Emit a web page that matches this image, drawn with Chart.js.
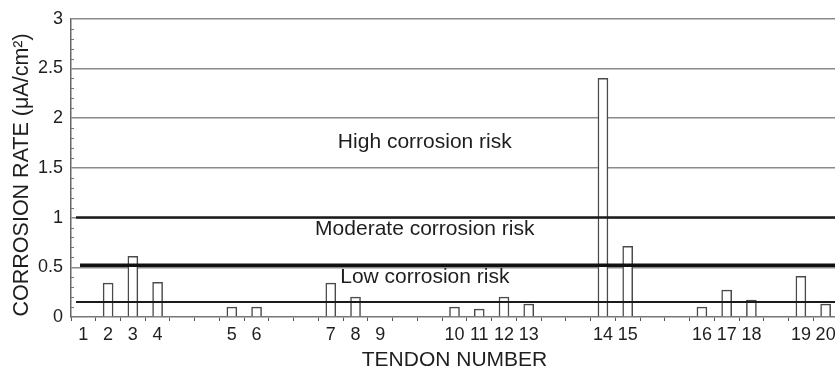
<!DOCTYPE html>
<html>
<head>
<meta charset="utf-8">
<script src="https://cdn.jsdelivr.net/npm/chart.js@4/dist/chart.umd.min.js"></script>
<style>
  html, body { margin: 0; padding: 0; background: #fff; overflow: hidden; }
  #wrap { width: 835px; height: 372px; overflow: hidden; }
</style>
</head>
<body>
<div id="wrap"><canvas id="chart" width="840" height="372"></canvas></div>
<script>
// Tendon numbers along the x axis; blank entries are the gaps between tendon groups.
const tendonLabels = ['1', '2', '3', '4', '', '', '5', '6', '', '', '7', '8', '9', '', '',
  '10', '11', '12', '13', '', '', '14', '15', '', '', '16', '17', '18', '', '19', '20'];

// Corrosion rate per tendon (µA/cm²); null where there is no tendon.
const corrosionRates = [0, 0.34, 0.61, 0.35, null, null, 0.1, 0.1, null, null, 0.34, 0.2, 0,
  null, null, 0.1, 0.08, 0.2, 0.13, null, null, 2.4, 0.71, null, null, 0.1, 0.27, 0.17, null, 0.41, 0.13];

// Risk thresholds (µA/cm²).
const riskThresholds = [0.15, 0.52, 1];

// Risk zone captions and the rate at which each caption sits.
const riskLabels = ['High corrosion risk', 'Moderate corrosion risk', 'Low corrosion risk'];
const riskLabelRates = [1.76, 0.885, 0.4];

const yTitle = 'CORROSION RATE (μA/cm²)';
const xTitle = 'TENDON NUMBER';

const FONT = '"Liberation Sans", Arial, Helvetica, sans-serif';

const thresholdStyle = [
  { width: 2, color: '#1a1a1a', inset: 5 },
  { width: 3.5, color: '#111', inset: 9 },
  { width: 2.5, color: '#1a1a1a', inset: 5 }
];

// Thresholds and zone captions, drawn on top of the bars.
const riskPlugin = {
  id: 'riskZones',
  afterDatasetsDraw(chart) {
    const { ctx, chartArea, scales } = chart;
    const y = scales.y, x = scales.x;
    ctx.save();
    riskThresholds.forEach((v, i) => {
      const s = thresholdStyle[i];
      const py = y.getPixelForValue(v);
      ctx.beginPath();
      ctx.lineWidth = s.width;
      ctx.strokeStyle = s.color;
      ctx.moveTo(chartArea.left + s.inset, py);
      ctx.lineTo(chartArea.right, py);
      ctx.stroke();
    });
    ctx.fillStyle = '#1e1e1e';
    ctx.font = '21px ' + FONT;
    ctx.textAlign = 'center';
    ctx.textBaseline = 'middle';
    const cx = x.getPixelForValue(13.8);
    riskLabels.forEach((t, i) => {
      ctx.fillText(t, cx, y.getPixelForValue(riskLabelRates[i]));
    });
    ctx.restore();
  },
  afterDraw(chart) {
    const { ctx, chartArea, scales } = chart;
    const y = scales.y;
    ctx.save();
    // short minor ticks every 0.1 inside the y axis
    ctx.strokeStyle = '#777';
    ctx.lineWidth = 1;
    for (let k = 1; k < 30; k++) {
      if (k % 5 === 0) continue;
      const py = Math.round(y.getPixelForValue(k / 10)) + 0.5;
      ctx.beginPath();
      ctx.moveTo(chartArea.left, py);
      ctx.lineTo(chartArea.left + 3, py);
      ctx.stroke();
    }
    // rotated y-axis title, set slightly below the plot's middle
    ctx.translate(y.left + 22, (chartArea.top + chartArea.bottom) / 2 + 7);
    ctx.rotate(-Math.PI / 2);
    ctx.fillStyle = '#1e1e1e';
    ctx.font = '21.5px ' + FONT;
    ctx.textAlign = 'center';
    ctx.textBaseline = 'middle';
    ctx.fillText(yTitle, 0, 0);
    ctx.restore();
  }
};

new Chart(document.getElementById('chart'), {
  type: 'bar',
  data: {
    labels: tendonLabels,
    datasets: [{
      data: corrosionRates,
      backgroundColor: '#ffffff',
      borderColor: '#4a4a4a',
      borderWidth: 1.5,
      barThickness: 10
    }]
  },
  options: {
    responsive: false,
    animation: false,
    events: [],
    layout: { padding: { top: 12, right: 2, left: 0, bottom: 0 } },
    plugins: {
      legend: { display: false },
      tooltip: { enabled: false }
    },
    scales: {
      x: {
        offset: true,
        grid: {
          offset: true,
          drawOnChartArea: false,
          drawTicks: true,
          tickLength: 4,
          tickColor: '#555',
          tickWidth: 1
        },
        border: { color: '#777', width: 1.5 },
        ticks: {
          autoSkip: false,
          maxRotation: 0,
          padding: 3,
          color: '#1e1e1e',
          font: { family: FONT, size: 18 }
        },
        title: {
          display: true,
          text: xTitle,
          color: '#1e1e1e',
          font: { family: FONT, size: 21, lineHeight: 1 },
          padding: { top: 0, bottom: 1.5 }
        },
        afterFit(scale) { scale.height = 55; }
      },
      y: {
        min: 0,
        max: 3,
        ticks: {
          stepSize: 0.5,
          padding: 8,
          color: '#1e1e1e',
          font: { family: FONT, size: 18 },
          callback: (v) => String(v)
        },
        grid: {
          drawTicks: false,
          lineWidth: 1.5,
          color: (c) => (c.tick && c.tick.value === 0) ? 'rgba(0,0,0,0)' : '#8a8a8a'
        },
        border: { color: '#666', width: 1.5 },
        title: { display: false },
        afterFit(scale) { scale.width = 71; }
      }
    }
  },
  plugins: [riskPlugin]
});
</script>
</body>
</html>
